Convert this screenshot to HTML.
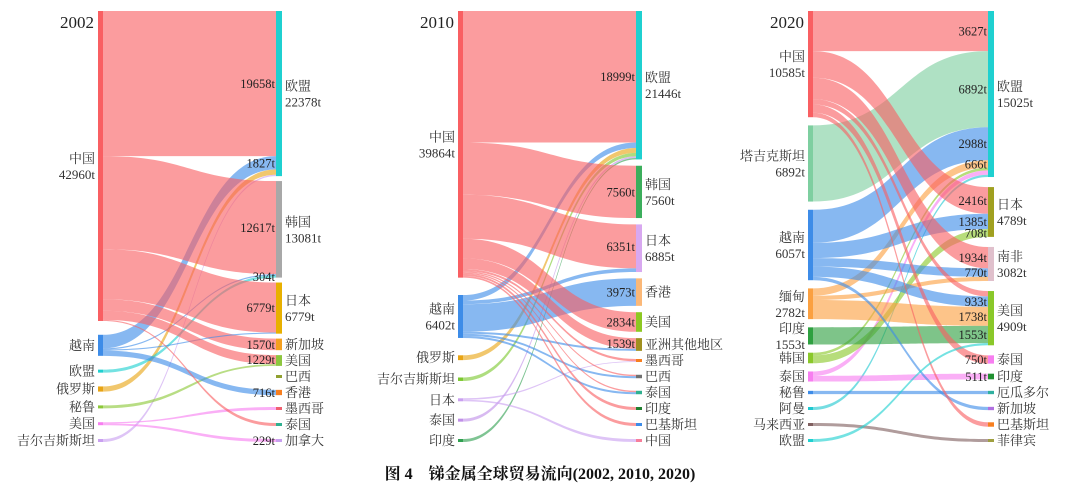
<!DOCTYPE html>
<html><head><meta charset="utf-8"><style>
html,body{margin:0;padding:0;background:#fff;}
svg{display:block;font-family:"Liberation Serif","Noto Serif CJK SC",serif;}
</style></head><body>
<svg id="c" width="1080" height="492"></svg>
<script>
// ===== 2002 data =====
const s2002 = ["中国","越南","欧盟","俄罗斯","秘鲁","美国","吉尔吉斯斯坦"];
const s2002Tot = ["42960t","","","","","",""];
const t2002 = ["欧盟","韩国","日本","新加坡","美国","巴西","香港","墨西哥","泰国","加拿大"];
const t2002Tot = ["22378t","13081t","6779t","","","","","","",""];
const l2002Src = [0,1,3,6,0,2,1,0,0,1,4,0,1,5,0,5];
const l2002Tgt = [0,0,0,0,1,1,1,2,3,2,4,4,6,7,8,9];
const l2002Val = [19658,1827,700,190,12617,304,160,6779,1570,150,230,1229,716,150,150,229];
// ===== 2010 data =====
const s2010 = ["中国","越南","俄罗斯","吉尔吉斯斯坦","日本","泰国","印度"];
const s2010Tot = ["39864t","6402t","","","","",""];
const t2010 = ["欧盟","韩国","日本","香港","美国","亚洲其他地区","墨西哥","巴西","泰国","印度","巴基斯坦","中国"];
const t2010Tot = ["21446t","7560t","6885t","","","","","","","","",""];
const l2010Src = [0,1,2,3,5,6,0,0,1,1,0,0,1,0,4,1,0,1,0,0,0,4];
const l2010Tgt = [0,0,0,0,0,0,1,2,2,3,4,5,5,6,6,7,7,8,8,9,10,11];
const l2010Val = [18999,800,700,500,250,197,7560,6351,534,3973,2834,1539,300,300,100,300,200,300,200,300,250,100];
// ===== 2020 data =====
const s2020 = ["中国","塔吉克斯坦","越南","缅甸","印度","韩国","泰国","秘鲁","阿曼","马来西亚","欧盟"];
const s2020Tot = ["10585t","6892t","6057t","2782t","1553t","","","","","",""];
const t2020 = ["欧盟","日本","南非","美国","泰国","印度","厄瓜多尔","新加坡","巴基斯坦","菲律宾"];
const t2020Tot = ["15025t","4789t","3082t","4909t","","","","","",""];
const l2020Src = [0,1,2,3,6,5,8,0,2,5,0,2,3,2,3,4,0,0,6,7,2,0,9,10];
const l2020Tgt = [0,0,0,0,0,0,0,1,1,1,2,2,2,3,3,3,3,4,5,6,7,8,9,3];
const l2020Val = [3627,6892,2988,666,400,250,202,2416,1385,708,1934,770,378,933,1738,1553,485,750,511,300,300,400,200,200];

const panels = [
 {year:"2002",xL:98,xR:276,k:0.00738,S:s2002,ST:s2002Tot,T:t2002,TT:t2002Tot,src:l2002Src,tgt:l2002Tgt,val:l2002Val,lbl:[0,1,4,5,7,8,11,12,15],
  sc:["#f95f62","#3d8ce8","#1fd0d0","#e8a414","#8cc838","#f77ef0","#c9a0f0"],
  tc:["#1fd0d0","#a8a8a8","#e8b000","#f5a020","#8dc63f","#90a030","#f77f20","#f06070","#30b090","#c9a0f0"]},
 {year:"2010",xL:458,xR:636,k:0.00692,S:s2010,ST:s2010Tot,T:t2010,TT:t2010Tot,src:l2010Src,tgt:l2010Tgt,val:l2010Val,lbl:[0,6,7,9,10,11],
  sc:["#f95f62","#3d8ce8","#e8a414","#7cc830","#c9a0f0","#c090e8","#30a050"],
  tc:["#1fd0d0","#3cae5c","#d8a8f0","#fbb878","#8dc822","#a09020","#f77f20","#707070","#30b090","#208030","#3d8ce8","#f77e9a"]},
 {year:"2020",xL:808,xR:988,k:0.01105,S:s2020,ST:s2020Tot,T:t2020,TT:t2020Tot,src:l2020Src,tgt:l2020Tgt,val:l2020Val,lbl:[0,1,2,3,7,8,9,10,11,13,14,15,17,18],
  sc:["#f95f62","#7ecfa0","#3d8ce8","#fba040","#2ea040","#8ac82a","#f77ef0","#3d8ce8","#20c8d0","#806060","#1fd0d0"],
  tc:["#1fd0d0","#a0a020","#e0c0cc","#8ac82a","#f77ef0","#209030","#30b0a0","#b070e0","#f77f20","#a0a040"]}
];
const NS="http://www.w3.org/2000/svg";
const svg=document.getElementById('c');
function mk(tag,attrs,parent){const e=document.createElementNS(NS,tag);for(const a in attrs)e.setAttribute(a,attrs[a]);(parent||svg).appendChild(e);return e;}
const TOP=11,BOT=442,BW=5,MINSTEP=16;
function layout(vals,k){
  const h=vals.map(v=>Math.max(3,v*k));
  const steps=g=>{const s=[];for(let i=0;i<h.length-1;i++)s.push(Math.max(g,MINSTEP-(h[i]+h[i+1])/2));return s;};
  const total=g=>h.reduce((a,b)=>a+b,0)+steps(g).reduce((a,b)=>a+b,0);
  let lo=0,hi=200;
  for(let it=0;it<60;it++){const m=(lo+hi)/2;if(total(m)>BOT-TOP)hi=m;else lo=m;}
  const st=steps(lo);
  let y=TOP;const ys=[];
  h.forEach((hh,i)=>{ys.push(y);y+=hh+(st[i]||0);});
  return {h,ys};
}
panels.forEach((P,pi)=>{
  const g=mk('g',{});
  
  
  const n=P.val.length;
  const sv=P.S.map((_,i)=>{let s=0;for(let j=0;j<n;j++)if(P.src[j]===i)s+=P.val[j];return s;});
  const tv=P.T.map((_,i)=>{let s=0;for(let j=0;j<n;j++)if(P.tgt[j]===i)s+=P.val[j];return s;});
  const L=layout(sv,P.k),R=layout(tv,P.k);
  const idx=[...Array(n).keys()];
  const sOff={},tOff={};
  const so=L.ys.slice(),to=R.ys.slice();
  idx.slice().sort((a,b)=>P.src[a]-P.src[b]||P.tgt[a]-P.tgt[b]).forEach(j=>{
    const sh=L.h[P.src[j]]*P.val[j]/sv[P.src[j]];sOff[j]=[so[P.src[j]],sh];so[P.src[j]]+=sh;});
  idx.slice().sort((a,b)=>P.tgt[a]-P.tgt[b]||P.src[a]-P.src[b]).forEach(j=>{
    const th=R.h[P.tgt[j]]*P.val[j]/tv[P.tgt[j]];tOff[j]=[to[P.tgt[j]],th];to[P.tgt[j]]+=th;});
  const x0=P.xL+BW,x1=P.xR,xm=(x0+x1)/2;
  idx.forEach(j=>{
    const [ya,ha]=sOff[j],[yb,hb]=tOff[j];
    const d=`M${x0},${ya}C${xm},${ya} ${xm},${yb} ${x1},${yb}L${x1},${yb+hb}C${xm},${yb+hb} ${xm},${ya+ha} ${x0},${ya+ha}Z`;
    const p=mk('path',{d:d,fill:P.sc[P.src[j]],'fill-opacity':0.62},g);
    
    
  });
  P.S.forEach((nm,i)=>{
    const r=mk('rect',{x:P.xL,y:L.ys[i],width:BW,height:L.h[i],fill:P.sc[i]},g);
    
    
    const cy=L.ys[i]+L.h[i]/2;
    const two=P.ST[i]!=="";
    const t=mk('text',{x:P.xL-3,y:two?cy-3:cy+4.5,'text-anchor':'end','font-size':13,fill:'#333'},g);
    t.textContent=nm;
    
    
    if(two){const t2=mk('text',{x:P.xL-3,y:cy+13,'text-anchor':'end','font-size':13,fill:'#333'},g);t2.textContent=P.ST[i];
      
      }
  });
  P.T.forEach((nm,i)=>{
    const r=mk('rect',{x:P.xR,y:R.ys[i],width:BW+1,height:R.h[i],fill:P.tc[i]},g);
    
    
    const cy=R.ys[i]+R.h[i]/2;
    const two=P.TT[i]!=="";
    const t=mk('text',{x:P.xR+BW+4,y:two?cy-3:cy+4.5,'font-size':13,fill:'#333'},g);
    t.textContent=nm;
    
    
    if(two){const t2=mk('text',{x:P.xR+BW+4,y:cy+13,'font-size':13,fill:'#333'},g);t2.textContent=P.TT[i];
      
      }
  });
  P.lbl.forEach(j=>{
    const [yb,hb]=tOff[j];
    const t=mk('text',{x:P.xR-1,y:yb+hb/2+4.5,'text-anchor':'end','font-size':12.5,fill:'#222'},g);
    t.textContent=P.val[j]+'t';
    
    
  });
  const yr=mk('text',{x:P.xL-4,y:28,'text-anchor':'end','font-size':17,fill:'#222'},g);
  yr.textContent=P.year;
  
  
});
const cap=mk('text',{x:540,y:479,'text-anchor':'middle','font-size':16,'font-weight':'bold',fill:'#111'});
cap.textContent="图 4　锑金属全球贸易流向(2002, 2010, 2020)";


</script>
</body></html>
